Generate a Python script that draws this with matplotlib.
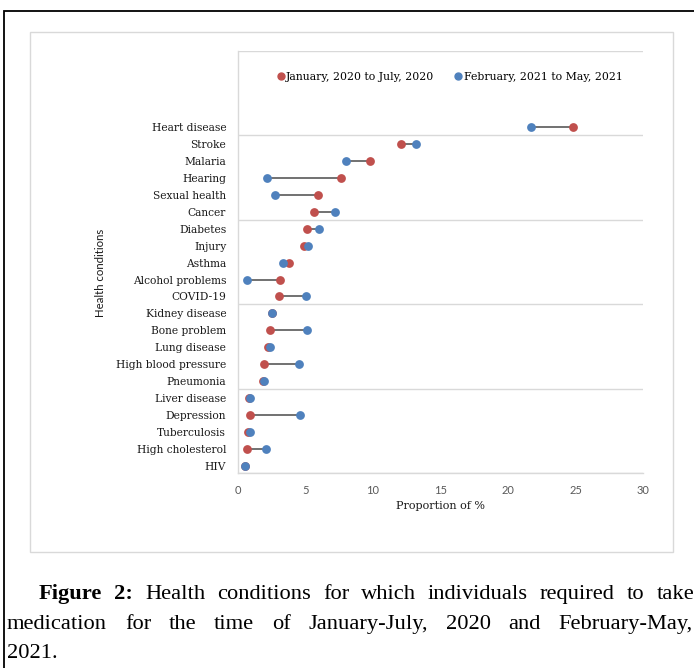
import matplotlib
matplotlib.use("Agg")
import matplotlib.pyplot as plt
import numpy as np
from matplotlib.patches import Rectangle
from matplotlib.lines import Line2D

# ---------------- data ----------------
conditions = ["Heart disease", "Stroke", "Malaria", "Hearing", "Sexual health", "Cancer",
              "Diabetes", "Injury", "Asthma", "Alcohol problems", "COVID-19",
              "Kidney disease", "Bone problem", "Lung disease", "High blood pressure",
              "Pneumonia", "Liver disease", "Depression", "Tuberculosis",
              "High cholesterol", "HIV"]
# January 2020 - July 2020 (red)
jan_jul_2020 = [24.8, 12.1, 9.8, 7.6, 5.9, 5.6, 5.1, 4.9, 3.8, 3.1, 3.0,
                2.5, 2.4, 2.25, 1.95, 1.85, 0.85, 0.9, 0.72, 0.67, 0.55]
# February 2021 - May 2021 (blue)
feb_may_2021 = [21.7, 13.2, 8.0, 2.15, 2.75, 7.2, 6.0, 5.2, 3.35, 0.7, 5.0,
                2.5, 5.1, 2.35, 4.5, 1.95, 0.9, 4.6, 0.87, 2.07, 0.55]
series_labels = ["January, 2020 to July, 2020", "February, 2021 to May, 2021"]
x_ticks = [0, 5, 10, 15, 20, 25, 30]
x_label = "Proportion of %"
y_label = "Health conditions"
caption_line1 = ["Figure", "2:", "Health", "conditions", "for", "which", "individuals",
                 "required", "to", "take"]
caption_line2 = ["medication", "for", "the", "time", "of", "January-July,", "2020", "and",
                 "February-May,"]
caption_line3 = "2021."

RED = "#C0504D"
BLUE = "#4F81BD"
GRID = "#D9D9D9"
W, H = 694, 668

fig = plt.figure(figsize=(W / 100, H / 100), dpi=100)
fig.patch.set_facecolor("white")

def fx(px):
    return px / W

def fy(py):
    return 1 - py / H

# outer black frame (extends past the right/bottom edge)
fig.add_artist(Rectangle((fx(4), fy(700)), 1.2, fy(11) - fy(700), transform=fig.transFigure,
                         fill=False, edgecolor="black", linewidth=1.3))
# chart area light frame
fig.add_artist(Rectangle((fx(30), fy(552)), fx(673) - fx(30), fy(32) - fy(552),
                         transform=fig.transFigure, fill=False, edgecolor=GRID, linewidth=1.0))

left, right, top, bottom = 238, 643, 51, 473
ax = fig.add_axes([fx(left), fy(bottom), fx(right) - fx(left), fy(top) - fy(bottom)])

n = len(conditions)
ypos = np.arange(n)[::-1]  # Heart disease at top
ylo, yhi = -0.413, 24.48
ax.set_ylim(ylo, yhi)
ax.set_xlim(0, 30)

for y, a, b in zip(ypos, jan_jul_2020, feb_may_2021):
    ax.plot([a, b], [y, y], color="#595959", linewidth=1.2, zorder=2)
ax.scatter(jan_jul_2020, ypos, s=40, color=RED, zorder=3, linewidths=0)
ax.scatter(feb_may_2021, ypos, s=40, color=BLUE, zorder=4, linewidths=0)

serif = "DejaVu Serif"
ax.set_yticks(ypos)
ax.set_yticklabels(conditions, fontsize=7.7, family=serif, color="#1a1a1a")
ax.tick_params(axis="y", which="major", length=0, pad=8.5)
ax.set_yticks(np.linspace(ylo, yhi, 6), minor=True)
ax.tick_params(axis="y", which="minor", length=0)
ax.grid(axis="y", which="minor", color=GRID, linewidth=1.0)

ax.set_xticks(x_ticks)
ax.set_xticklabels([str(t) for t in x_ticks], fontsize=8, family="Lato", color="#595959")
ax.tick_params(axis="x", length=0, pad=9)
ax.set_xlabel(x_label, fontsize=8, family=serif, color="#1a1a1a", labelpad=3.5)

for s in ["right", "top"]:
    ax.spines[s].set_visible(False)
ax.spines["left"].set_color(GRID)
ax.spines["bottom"].set_color(GRID)
ax.spines["left"].set_linewidth(1.0)
ax.spines["bottom"].set_linewidth(1.0)

fig.text(fx(100), fy(273), y_label, rotation=90, ha="center", va="center",
         fontsize=8.2, family="Lato", color="#1a1a1a")

handles = [Line2D([], [], marker="o", linestyle="none", markersize=5, color=RED),
           Line2D([], [], marker="o", linestyle="none", markersize=5, color=BLUE)]
leg = ax.legend(handles, series_labels, loc="center", bbox_to_anchor=(fx(449), fy(77)),
                bbox_transform=fig.transFigure, ncol=2, frameon=False,
                prop={"family": serif, "size": 7.8}, handletextpad=0.0,
                columnspacing=1.7, handlelength=1.0)

# ---------------- caption ----------------
cap_font = "Liberation Serif"
cap_size = 16.2
renderer = fig.canvas.get_renderer()

def justify(words, x0, x1, ybase, bold_count=0):
    texts = []
    for i, w in enumerate(words):
        t = fig.text(0, fy(ybase), w, family=cap_font, fontsize=cap_size, va="baseline",
                     ha="left", weight="bold" if i < bold_count else "normal", color="black")
        texts.append(t)
    widths = [t.get_window_extent(renderer).width for t in texts]
    gap = (x1 - x0 - sum(widths)) / (len(words) - 1)
    x = x0
    for t, wd in zip(texts, widths):
        t.set_x(fx(x))
        x += wd + gap

justify(caption_line1, 39, 694, 599, bold_count=2)
justify(caption_line2, 7, 693, 629)
fig.text(fx(7), fy(658), caption_line3, family=cap_font, fontsize=cap_size, va="baseline",
         ha="left", color="black")

fig.savefig("out.png", dpi=100, facecolor="white")
